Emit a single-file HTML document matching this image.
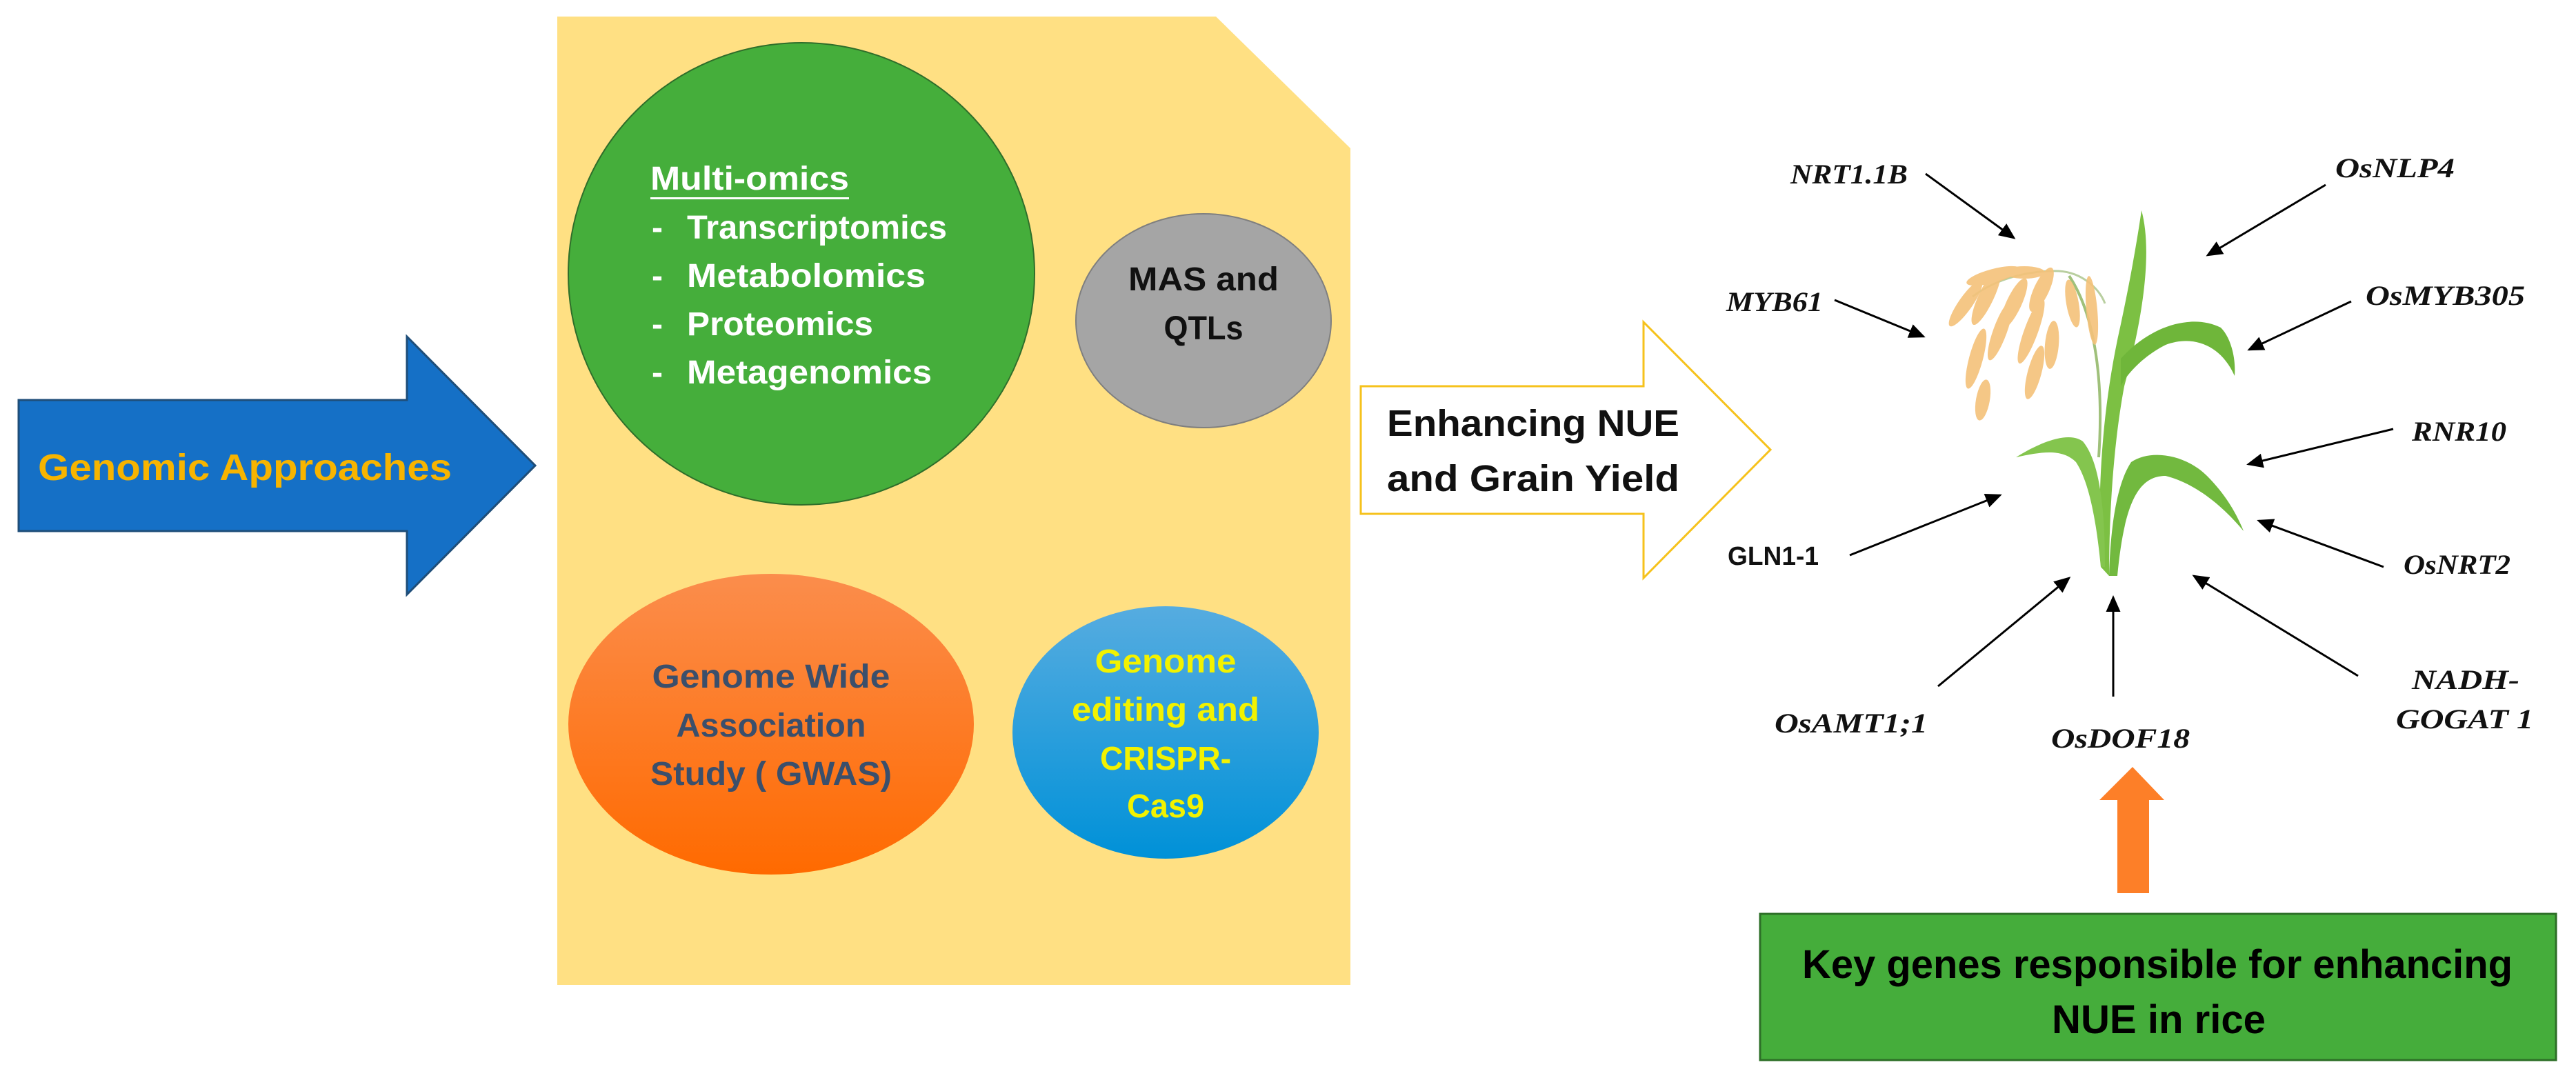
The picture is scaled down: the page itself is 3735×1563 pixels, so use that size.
<!DOCTYPE html>
<html><head><meta charset="utf-8"><style>html,body{margin:0;padding:0;background:#fff}svg{display:block}</style></head>
<body>
<svg width="3735" height="1563" viewBox="0 0 3735 1563" xmlns="http://www.w3.org/2000/svg">
<defs>
<linearGradient id="og" x1="0" y1="0" x2="0" y2="1"><stop offset="0" stop-color="#fb8d4c"/><stop offset="1" stop-color="#ff6a00"/></linearGradient>
<linearGradient id="bg" x1="0" y1="0" x2="0" y2="1"><stop offset="0" stop-color="#56ace0"/><stop offset="1" stop-color="#0091d8"/></linearGradient>
<marker id="ah" markerWidth="8" markerHeight="8" refX="7" refY="4" orient="auto" markerUnits="strokeWidth"><path d="M0,0.5 L8,4 L0,7.5 Z" fill="#000"/></marker>
</defs>
<!-- blue arrow -->
<polygon points="27,580 590,580 590,488 776,675 590,862 590,770 27,770" fill="#1570c6" stroke="#1f4e79" stroke-width="3"/>
<text x="55" y="696" font-family="Liberation Sans, sans-serif" font-weight="bold" font-size="54" fill="#f7b400" textLength="600" lengthAdjust="spacingAndGlyphs">Genomic Approaches</text>
<!-- yellow panel -->
<polygon points="808,24 1763,24 1958,215 1958,1428 808,1428" fill="#ffe083"/>
<!-- green circle -->
<ellipse cx="1162" cy="397" rx="338" ry="335" fill="#45ae3b" stroke="#2f6e2a" stroke-width="2"/>
<g font-family="Liberation Sans, sans-serif" font-weight="bold" fill="#fff" font-size="48">
<text x="943" y="275" textLength="288" lengthAdjust="spacingAndGlyphs">Multi-omics</text>
<rect x="943" y="286" width="288" height="3" fill="#fff"/>
<text x="945" y="346">-</text><text x="996" y="346" textLength="377" lengthAdjust="spacingAndGlyphs">Transcriptomics</text>
<text x="945" y="416">-</text><text x="996" y="416" textLength="346" lengthAdjust="spacingAndGlyphs">Metabolomics</text>
<text x="945" y="486">-</text><text x="996" y="486" textLength="270" lengthAdjust="spacingAndGlyphs">Proteomics</text>
<text x="945" y="556">-</text><text x="996" y="556" textLength="355" lengthAdjust="spacingAndGlyphs">Metagenomics</text>
</g>
<!-- MAS -->
<ellipse cx="1745" cy="465" rx="185" ry="155" fill="#a5a5a5" stroke="#7f7f7f" stroke-width="2"/>
<g font-family="Liberation Sans, sans-serif" font-weight="bold" fill="#111" font-size="48" text-anchor="middle">
<text x="1745" y="421" textLength="218" lengthAdjust="spacingAndGlyphs">MAS and</text>
<text x="1745" y="492" textLength="115" lengthAdjust="spacingAndGlyphs">QTLs</text>
</g>
<!-- GWAS -->
<ellipse cx="1118" cy="1050" rx="294" ry="218" fill="url(#og)"/>
<g font-family="Liberation Sans, sans-serif" font-weight="bold" fill="#3b4f6b" font-size="48" text-anchor="middle">
<text x="1118" y="997" textLength="345" lengthAdjust="spacingAndGlyphs">Genome Wide</text>
<text x="1118" y="1068" textLength="275" lengthAdjust="spacingAndGlyphs">Association</text>
<text x="1118" y="1138" textLength="350" lengthAdjust="spacingAndGlyphs">Study ( GWAS)</text>
</g>
<!-- CRISPR -->
<ellipse cx="1690" cy="1062" rx="222" ry="183" fill="url(#bg)"/>
<g font-family="Liberation Sans, sans-serif" font-weight="bold" fill="#f2f200" font-size="48" text-anchor="middle">
<text x="1690" y="975" textLength="205" lengthAdjust="spacingAndGlyphs">Genome</text>
<text x="1690" y="1045" textLength="272" lengthAdjust="spacingAndGlyphs">editing and</text>
<text x="1690" y="1116" textLength="190" lengthAdjust="spacingAndGlyphs">CRISPR-</text>
<text x="1690" y="1185" textLength="112" lengthAdjust="spacingAndGlyphs">Cas9</text>
</g>
<!-- hollow arrow -->
<polygon points="1973,560 2383,560 2383,467 2567,652 2383,838 2383,745 1973,745" fill="#fff" stroke="#f6c21c" stroke-width="3"/>
<g font-family="Liberation Sans, sans-serif" font-weight="bold" fill="#111" font-size="54">
<text x="2011" y="632" textLength="424" lengthAdjust="spacingAndGlyphs">Enhancing NUE</text>
<text x="2011" y="712" textLength="424" lengthAdjust="spacingAndGlyphs">and Grain Yield</text>
</g>
<!-- plant -->
<g>
<path d="M3052,440 C3045,420 3020,395 2985,393 C2950,392 2900,400 2860,430" fill="none" stroke="#b9cfa0" stroke-width="3"/>
<path d="M3043,663 C3050,560 3040,460 3000,400" fill="none" stroke="#9fc07a" stroke-width="4"/>
<g fill="#f5c27a" opacity="0.9">
<ellipse cx="2850" cy="440" rx="10" ry="40" transform="rotate(35 2850 440)"/>
<ellipse cx="2880" cy="430" rx="11" ry="45" transform="rotate(25 2880 430)"/>
<ellipse cx="2865" cy="520" rx="10" ry="45" transform="rotate(15 2865 520)"/>
<ellipse cx="2875" cy="580" rx="10" ry="30" transform="rotate(10 2875 580)"/>
<ellipse cx="2900" cy="480" rx="10" ry="45" transform="rotate(20 2900 480)"/>
<ellipse cx="2920" cy="440" rx="11" ry="40" transform="rotate(25 2920 440)"/>
<ellipse cx="2945" cy="480" rx="10" ry="50" transform="rotate(20 2945 480)"/>
<ellipse cx="2960" cy="420" rx="11" ry="35" transform="rotate(25 2960 420)"/>
<ellipse cx="2950" cy="540" rx="10" ry="40" transform="rotate(15 2950 540)"/>
<ellipse cx="2975" cy="500" rx="10" ry="35" transform="rotate(5 2975 500)"/>
<ellipse cx="3005" cy="440" rx="9" ry="35" transform="rotate(-10 3005 440)"/>
<ellipse cx="3033" cy="450" rx="8" ry="50" transform="rotate(-5 3033 450)"/>
<ellipse cx="2890" cy="400" rx="40" ry="10" transform="rotate(-15 2890 400)"/>
<ellipse cx="2935" cy="395" rx="30" ry="9"/>
</g>
<g fill="#7cc043">
<path d="M3046,822 C3040,700 3050,580 3075,470 C3090,400 3100,340 3105,305 C3120,360 3110,450 3080,560 C3065,640 3058,740 3058,835 Z"/>
<path d="M3075,520 C3120,470 3180,455 3220,475 C3235,490 3242,520 3240,545 C3220,500 3180,485 3140,500 C3110,515 3085,540 3075,560 Z" fill="#6fb63a"/>
<path d="M3046,822 C3040,760 3030,700 3010,670 C2990,650 2960,655 2923,663 C2960,640 3000,625 3020,640 C3045,670 3052,740 3052,822 Z" fill="#84c54e"/>
<path d="M3058,835 C3060,760 3070,700 3090,670 C3120,650 3170,660 3200,690 C3230,720 3245,750 3253,770 C3220,730 3180,700 3140,690 C3100,690 3080,730 3070,835 Z" fill="#72b93f"/>
</g>
</g>
<!-- connectors -->
<g stroke="#000" stroke-width="3" marker-end="url(#ah)">
<line x1="2792" y1="252" x2="2920" y2="345"/>
<line x1="3372" y1="268" x2="3201" y2="370"/>
<line x1="2660" y1="435" x2="2789" y2="488"/>
<line x1="3409" y1="437" x2="3261" y2="507"/>
<line x1="3470" y1="622" x2="3260" y2="673"/>
<line x1="2682" y1="805" x2="2900" y2="718"/>
<line x1="3456" y1="822" x2="3275" y2="755"/>
<line x1="2810" y1="995" x2="3000" y2="838"/>
<line x1="3064" y1="1010" x2="3064" y2="866"/>
<line x1="3419" y1="980" x2="3181" y2="835"/>
</g>
<g font-family="Liberation Serif, serif" font-style="italic" font-weight="bold" fill="#111" font-size="40">
<text x="2596" y="266" textLength="170" lengthAdjust="spacingAndGlyphs">NRT1.1B</text>
<text x="3386" y="257" textLength="173" lengthAdjust="spacingAndGlyphs">OsNLP4</text>
<text x="2503" y="451" textLength="140" lengthAdjust="spacingAndGlyphs">MYB61</text>
<text x="3430" y="442" textLength="231" lengthAdjust="spacingAndGlyphs">OsMYB305</text>
<text x="3497" y="639" textLength="137" lengthAdjust="spacingAndGlyphs">RNR10</text>
<text x="3485" y="832" textLength="155" lengthAdjust="spacingAndGlyphs">OsNRT2</text>
<text x="2573" y="1062" textLength="222" lengthAdjust="spacingAndGlyphs">OsAMT1;1</text>
<text x="2974" y="1084" textLength="201" lengthAdjust="spacingAndGlyphs">OsDOF18</text>
<text x="3497" y="999" textLength="156" lengthAdjust="spacingAndGlyphs">NADH-</text>
<text x="3474" y="1056" textLength="199" lengthAdjust="spacingAndGlyphs">GOGAT 1</text>
</g>
<text x="2505" y="819" font-family="Liberation Sans, sans-serif" font-weight="bold" font-size="38" fill="#111" textLength="132" lengthAdjust="spacingAndGlyphs">GLN1-1</text>
<!-- orange arrow -->
<polygon points="3070,1295 3070,1160 3044,1160 3092,1112 3138,1160 3116,1160 3116,1295" fill="#fd7f28"/>
<!-- green box -->
<rect x="2552" y="1325" width="1154" height="212" fill="#45ad3b" stroke="#2d6f27" stroke-width="3"/>
<g font-family="Liberation Sans, sans-serif" font-weight="bold" fill="#000" font-size="58" text-anchor="middle">
<text x="3128" y="1418" textLength="1030" lengthAdjust="spacingAndGlyphs">Key genes responsible for enhancing</text>
<text x="3130" y="1498" textLength="310" lengthAdjust="spacingAndGlyphs">NUE in rice</text>
</g>
</svg>
</body></html>
